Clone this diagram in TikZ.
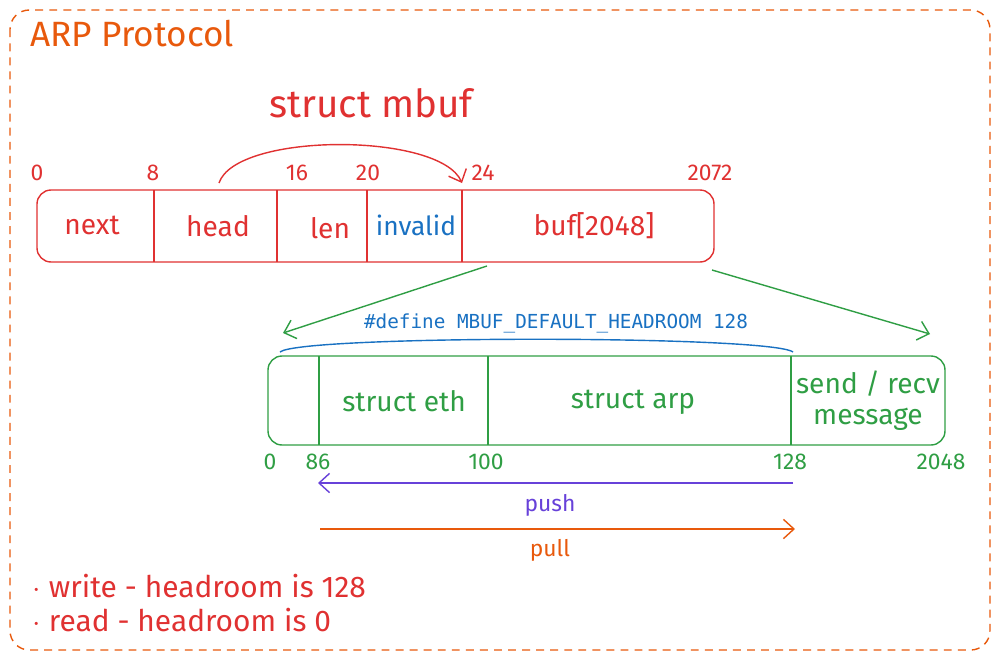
\documentclass[tikz,border=0pt]{standalone}
\usepackage{fontspec}
\setmainfont{Fira Sans}
\newfontfamily\codefont{DejaVu Sans Mono}
\usetikzlibrary{arrows.meta}
\definecolor{exRed}{HTML}{E03131}
\definecolor{exGreen}{HTML}{2F9E44}
\definecolor{exBlue}{HTML}{1971C2}
\definecolor{exOrange}{HTML}{E8590C}
\definecolor{exViolet}{HTML}{6741D9}
\newcommand{\fsz}[1]{\fontsize{#1}{#1}\selectfont}

\begin{document}
\begin{tikzpicture}[x=0.02cm, y=-0.02cm, line width=0.8pt,
  cell/.style={font=\fsz{16}},
  num/.style={font=\fsz{13}},
  barb/.style={-{Straight Barb[length=6pt,width=11pt]}}]
\useasboundingbox (0,0) rectangle (1001,660);
%
\draw[exOrange, dash pattern=on 4.5pt off 3.5pt, rounded corners=11pt] (10,10) rectangle (990,650);
\node[exOrange, font=\fsz{20}, anchor=west] (title) at (24,34) {ARP Protocol};
\node[exRed, font=\fsz{22}] (mbufname) at (371,103) {struct mbuf};
%
% struct mbuf
\draw[exRed, rounded corners=8pt] (37,190) rectangle (714,262);
\draw[exRed] (154,190) -- (154,262);
\draw[exRed] (277,190) -- (277,262);
\draw[exRed] (367,190) -- (367,262);
\draw[exRed] (462,190) -- (462,262);
\node[cell, exRed] (next) at (92,225) {next};
\node[cell, exRed] (head) at (218,226) {head};
\node[cell, exRed] (len) at (330,228) {len};
\node[exBlue, font=\fsz{15}] (invalid) at (416,225) {invalid};
\node[cell, exRed] (buf) at (594,226) {buf[2048]};
%
\node[num, exRed] (o0) at (37,173) {0};
\node[num, exRed] (o8) at (153,173) {8};
\node[num, exRed] (o16) at (297,173) {16};
\node[num, exRed] (o20) at (368,173) {20};
\node[num, exRed] (o24) at (483,173) {24};
\node[num, exRed] (o2072) at (710,173) {2072};
%
\coordinate (headtop) at (219,183);
\coordinate (buftop) at (462,183);
\draw[exRed, barb] (headtop) .. controls (236,132) and (440,132) .. (buftop);
%
% buf[2048]
\coordinate (bufL) at (487,266);
\coordinate (bufR) at (712,270);
\coordinate (pktL) at (283,333);
\coordinate (pktR) at (930,334);
\draw[exGreen, barb] (bufL) -- (pktL);
\draw[exGreen, barb] (bufR) -- (pktR);
%
\node[exBlue, font=\codefont\fsz{11}] (headroom) at (556,323) {\#define MBUF\_DEFAULT\_HEADROOM 128};
\coordinate (hrL) at (280,352);
\coordinate (hrR) at (793,352);
\draw[exBlue] (hrL) .. controls (300,335) and (770,335) .. (hrR);
%
\draw[exGreen, rounded corners=8pt] (268,356) rectangle (945,445);
\draw[exGreen] (319,356) -- (319,445);
\draw[exGreen] (488,356) -- (488,445);
\draw[exGreen] (791,356) -- (791,445);
\node[cell, exGreen] (eth) at (404,401) {struct eth};
\node[cell, exGreen] (arp) at (633,402) {struct arp};
\node[cell, exGreen, align=center] (msg) at (868,401) {send / recv\\[1.5pt]message};
%
\node[num, exGreen] (p0) at (270,462) {0};
\node[num, exGreen] (p86) at (318,462) {86};
\node[num, exGreen] (p100) at (486,462) {100};
\node[num, exGreen] (p128) at (790,462) {128};
\node[num, exGreen] (p2048) at (941,462) {2048};
%
% push / pull
\coordinate (pushS) at (793,483);
\coordinate (pushE) at (318,483);
\draw[exViolet, barb] (pushS) -- (pushE);
\node[exViolet, font=\fsz{13}] (push) at (550,505) {push};
\coordinate (pullS) at (320,529);
\coordinate (pullE) at (795,529);
\draw[exOrange, barb] (pullS) -- (pullE);
\node[exOrange, font=\fsz{13}] (pull) at (550,550) {pull};
%
\node[exRed, font=\fsz{17}, anchor=west] (write) at (26,586) {$\cdot$ write - headroom is 128};
\node[exRed, font=\fsz{17}, anchor=west] (read) at (26,620) {$\cdot$ read - headroom is 0};
\end{tikzpicture}
\end{document}
